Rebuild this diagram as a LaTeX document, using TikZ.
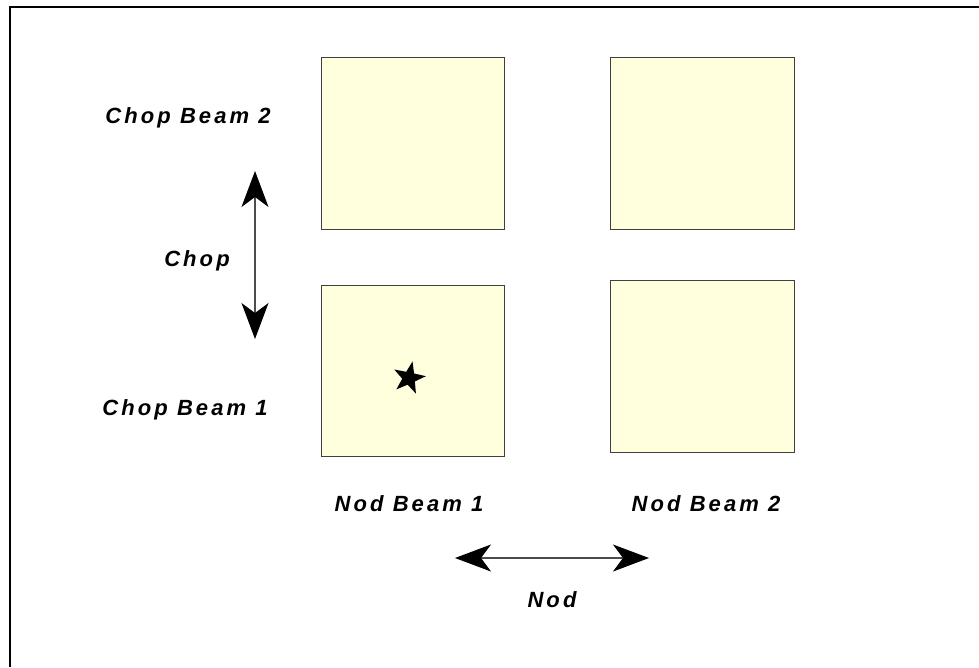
\documentclass[tikz,border=0pt]{standalone}
\usepackage{fontspec}
\setmainfont{Liberation Sans}[LetterSpace=14]
\usetikzlibrary{shapes.geometric,arrows.meta}
\definecolor{paleyellow}{RGB}{255,255,222}
\tikzset{
  beambox/.style={draw=black!75, line width=1pt, fill=paleyellow, inner sep=0pt},
  lbl/.style={font=\fontsize{22}{26}\selectfont\bfseries\itshape, inner sep=0pt, anchor=base},
  motion/.style={draw=black!70, line width=1.2pt, {Stealth[length=36pt,width=27pt,inset=10pt,color=black]}-{Stealth[length=36pt,width=27pt,inset=10pt,color=black]}}
}
\begin{document}
\begin{tikzpicture}[x=1pt,y=-1pt]
\useasboundingbox (0,0) rectangle (979,667);
% frame
\draw[line width=2.8pt] (10,667) -- (10,7) -- (979,7);
% boxes
\draw[beambox] (321,57) rectangle (504,229);
\draw[beambox] (610,57) rectangle (794,229);
\draw[beambox] (321,285) rectangle (504,456);
\draw[beambox] (610,280) rectangle (794,452);
% star
\node[star, star points=5, star point ratio=2.5, fill=black, minimum size=34pt, inner sep=0pt, rotate=-12] (star) at (409,378) {};
% labels
\node[lbl] (cb2) at (188,123) {Chop Beam 2};
\node[lbl] (chop) at (197,266) {Chop};
\node[lbl] (cb1) at (185,415) {Chop Beam 1};
\node[lbl] (nb1) at (409,511) {Nod Beam 1};
\node[lbl] (nb2) at (706,511) {Nod Beam 2};
\node[lbl] (nod) at (552,607) {Nod};
% arrows
\coordinate (ct) at (255,171);
\coordinate (cb) at (255,339);
\coordinate (nl) at (455,558);
\coordinate (nr) at (649,558);
\draw[motion] (ct) -- (cb);
\draw[motion] (nl) -- (nr);
\end{tikzpicture}
\end{document}
